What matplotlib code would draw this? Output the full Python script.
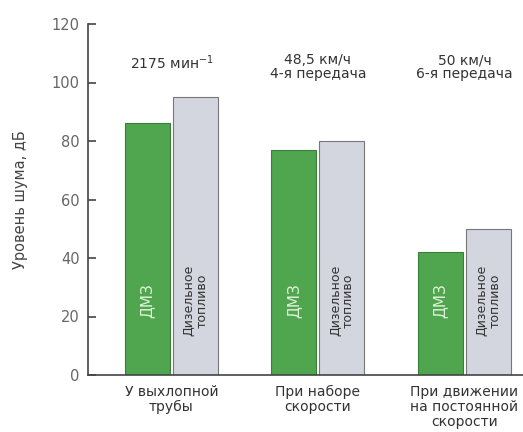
import matplotlib.pyplot as plt
import numpy as np

plt.rcParams['font.family'] = ['DejaVu Sans']

# noise levels, dB
categories = ["У выхлопной\nтрубы", "При наборе\nскорости",
              "При движении\nна постоянной\nскорости"]
dme_values = [86, 77, 42]
diesel_values = [95, 80, 50]
conditions = ["2175 мин$^{-1}$", "48,5 км/ч\n4-я передача", "50 км/ч\n6-я передача"]
y_ticks = [0, 20, 40, 60, 80, 100, 120]

green = "#4fa64f"
grey = "#d3d6de"

fig = plt.figure(figsize=(5.23, 4.32), dpi=100)
ax = fig.add_axes([88 / 523, 57 / 432, 435 / 523, 351 / 432])

x = np.arange(len(categories))
w = 0.307
off = 0.164

ax.bar(x - off, dme_values, w, color=green, edgecolor="#3b7d3b", linewidth=0.8)
ax.bar(x + off, diesel_values, w, color=grey, edgecolor="#777777", linewidth=0.8)

# labels inside the bars
for xi in x:
    ax.text(xi - off, 25.5, "ДМЗ", rotation=90, ha="center", va="center",
            fontsize=11, color="#e2f3dc")
    ax.text(xi + off, 25.5, "Дизельное\nтопливо", rotation=90, ha="center",
            va="center", fontsize=9, color="#333333", linespacing=0.95)

# operating conditions above each group
for xi, c in zip(x, conditions):
    ax.text(xi, 110.0, c, ha="center", va="top", fontsize=10,
            color="#333333", linespacing=1.0)

ax.set_xlim(-0.57, 2.40)
ax.set_ylim(0, 120)
ax.set_yticks(y_ticks)
ax.set_xticks(x)
ax.set_xticklabels(categories, fontsize=10, color="#333333", linespacing=1.12)
ax.tick_params(axis="x", length=0, pad=7)
ax.tick_params(axis="y", direction="in", length=6, width=1.2, color="#444444",
               labelsize=10.5, labelcolor="#666666", pad=6)

for s in ["top", "right"]:
    ax.spines[s].set_visible(False)
for s in ["left", "bottom"]:
    ax.spines[s].set_color("#444444")
    ax.spines[s].set_linewidth(1.2)

ax.set_ylabel("Уровень шума, дБ", fontsize=10.5, color="#444444", labelpad=17)

fig.savefig("out.png", dpi=100)
